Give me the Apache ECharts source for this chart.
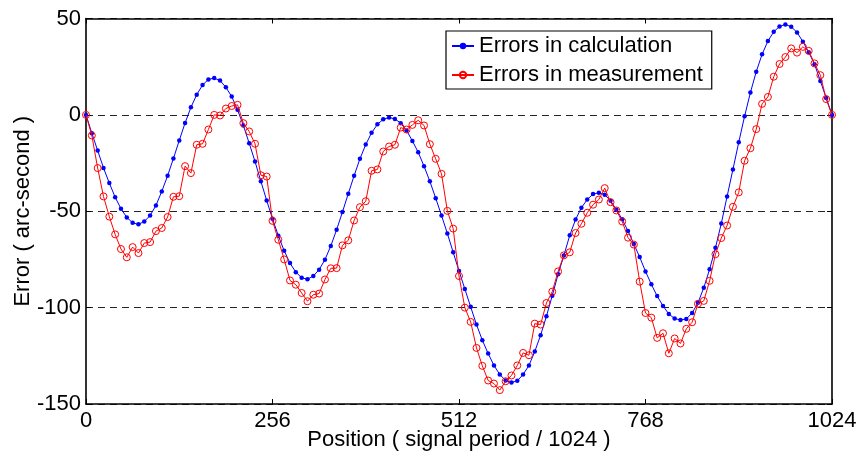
<!DOCTYPE html>
<html>
<head>
<meta charset="utf-8">
<script src="https://cdn.jsdelivr.net/npm/echarts@6/dist/echarts.min.js"></script>
<style>
  html, body { margin: 0; padding: 0; background: #fff; }
  #chart { width: 859px; height: 457px; }
</style>
</head>
<body>
<div id="chart"></div>
<script>
// Sample spacing along the signal period (positions 0, 8, 16, ... 1024)
const STEP = 8;
const xTicks = [0, 256, 512, 768, 1024];
const yTicks = [-150, -100, -50, 0, 50];

// Errors in calculation (arc-second), one value per sample
const calcErrors = [
  0, -9.5, -18.5, -27.5, -35.4, -42.7, -48.7, -53.2, -56, -56.8,
  -55.3, -52.2, -47, -39.7, -31.6, -22.6, -13.3, -4.2, 3.9, 10.5,
  15.5, 18.4, 19.1, 17.8, 14.3, 9.5, 2.6, -5.5, -14.7, -24.2,
  -34.4, -44.4, -53.9, -62.7, -70.5, -76.9, -81.6, -84.5, -85.3, -83.6,
  -80.3, -75.1, -68, -59.6, -50.4, -40.9, -31.6, -22.8, -15.4, -9.3,
  -4.9, -2.3, -1.4, -2.1, -4.3, -8.1, -13.5, -19.4, -26.6, -34.5,
  -43.2, -52.2, -61.5, -71.3, -81, -90.3, -99.6, -108.8, -116.9, -123.8,
  -130, -134.7, -137.8, -138.8, -138, -134.7, -130, -122.8, -114.3, -104.5,
  -93.8, -82.7, -72.9, -62.5, -54.3, -48.2, -43.9, -41.1, -40.4, -41.4,
  -44.6, -49.2, -54.2, -60.3, -67, -73.8, -81.2, -87.9, -94, -99.1,
  -103.3, -105.7, -106.4, -105.9, -102.8, -97.5, -89.7, -80.1, -69, -56.4,
  -42.3, -28.3, -14.2, -0.7, 11.6, 22.4, 31.4, 38.3, 43.1, 45.9,
  46.9, 45.7, 42.8, 38, 32.5, 26.3, 17.6, 8.8, 0
];

// Errors in measurement (arc-second), one value per sample
const measErrors = [
  0, -10.7, -27.6, -42.3, -52.8, -62, -69.6, -73.9, -68.6, -71.7,
  -66.5, -66, -60.3, -58.7, -53, -42.5, -42.2, -26.6, -30.2, -15.5,
  -15, -7.6, 0, -0.3, 3.3, 4.6, 5.2, -4.3, -8.6, -15,
  -31.3, -32, -55, -64.8, -75, -85.9, -88.1, -92.4, -96.7, -93.3,
  -92.7, -85.4, -79.6, -79.5, -67.7, -65.1, -54.8, -47.9, -44.8, -29,
  -28.3, -19, -16.4, -15.5, -6.6, -7.6, -5.2, -2.8, -5.5, -15.2,
  -22.8, -30.6, -49.8, -59, -83.6, -100, -107.4, -120.9, -130.2, -137.8,
  -139.4, -142.8, -138.2, -135.2, -130, -123.5, -124.7, -108.3, -108.8, -97.6,
  -91.7, -81.2, -72.9, -71.3, -61.3, -56.5, -50.8, -46.6, -43.9, -38,
  -45.3, -49.6, -55.3, -63.7, -67.3, -86.5, -102.8, -105.2, -115.7, -113.3,
  -123.7, -116, -118.6, -111, -107.6, -98, -96.5, -86.1, -72.3, -63.9,
  -57.4, -47.7, -40.2, -23.8, -17.3, -7.4, 5.7, 9.3, 19.8, 26.4,
  30, 34.5, 32.3, 35.3, 33.2, 26.7, 20.6, 8.2, 0
];

const FONT = "'Liberation Sans', Arial, sans-serif";
const toPairs = vals => vals.map((v, i) => [i * STEP, v]);
const plain = v => String(v);

const xMin = xTicks[0], xMax = xTicks[xTicks.length - 1];
const xInt = xTicks[1] - xTicks[0];
const yMin = yTicks[0], yMax = yTicks[yTicks.length - 1];
const yInt = yTicks[1] - yTicks[0];

const chart = echarts.init(document.getElementById('chart'), null, { renderer: 'canvas' });

const frameLine = { show: true, onZero: false, lineStyle: { color: '#000', width: 1.6 } };
const innerTick = { show: true, inside: true, length: 5, lineStyle: { color: '#000', width: 1 } };

chart.setOption({
  animation: false,
  backgroundColor: '#fff',
  textStyle: { fontFamily: FONT },
  grid: { left: 86, right: 27, top: 18.5, bottom: 53, containLabel: false, outerBoundsMode: 'none' },
  legend: {
    orient: 'vertical',
    left: 446,
    top: 31,
    itemWidth: 22,
    itemHeight: 8,
    itemGap: 7,
    padding: [4, 9, 3, 5],
    backgroundColor: '#fff',
    borderColor: '#000',
    borderWidth: 1.2,
    borderRadius: 0,
    textStyle: { fontSize: 22, color: '#000', fontFamily: FONT },
    data: ['Errors in calculation', 'Errors in measurement']
  },
  xAxis: [
    {
      type: 'value', position: 'bottom', min: xMin, max: xMax, interval: xInt,
      axisLine: frameLine, axisTick: innerTick,
      axisLabel: { fontSize: 22, color: '#000', margin: 6, fontFamily: FONT, formatter: plain },
      splitLine: { show: false },
      name: 'Position ( signal period / 1024 )',
      nameLocation: 'middle', nameGap: 25, nameMoveOverlap: false,
      nameTextStyle: { fontSize: 22, color: '#000', fontFamily: FONT }
    },
    {
      type: 'value', position: 'top', min: xMin, max: xMax, interval: xInt,
      axisLine: frameLine, axisTick: innerTick,
      axisLabel: { show: false }, splitLine: { show: false }
    }
  ],
  yAxis: [
    {
      type: 'value', position: 'left', min: yMin, max: yMax, interval: yInt,
      axisLine: frameLine, axisTick: innerTick,
      axisLabel: { fontSize: 22, color: '#000', margin: 5, fontFamily: FONT, formatter: plain },
      splitLine: { show: true, lineStyle: { color: '#222', width: 1, type: [7, 5] } },
      name: 'Error ( arc-second )',
      nameLocation: 'middle', nameGap: 52, nameMoveOverlap: false,
      nameTextStyle: { fontSize: 22, color: '#000', fontFamily: FONT }
    },
    {
      type: 'value', position: 'right', min: yMin, max: yMax, interval: yInt,
      axisLine: frameLine, axisTick: innerTick,
      axisLabel: { show: false }, splitLine: { show: false }
    }
  ],
  series: [
    {
      name: 'Errors in calculation',
      type: 'line',
      data: toPairs(calcErrors),
      symbol: 'circle',
      symbolSize: 4.5,
      showAllSymbol: true,
      lineStyle: { color: '#0000ff', width: 1 },
      itemStyle: { color: '#0000ff', borderWidth: 0 },
      z: 3
    },
    {
      name: 'Errors in measurement',
      type: 'line',
      data: toPairs(measErrors),
      symbol: 'circle',
      symbolSize: 7,
      showAllSymbol: true,
      lineStyle: { color: '#ff0000', width: 1 },
      itemStyle: { color: 'rgba(255,255,255,0)', borderColor: '#ff0000', borderWidth: 1 },
      z: 4
    }
  ]
});
</script>
</body>
</html>
